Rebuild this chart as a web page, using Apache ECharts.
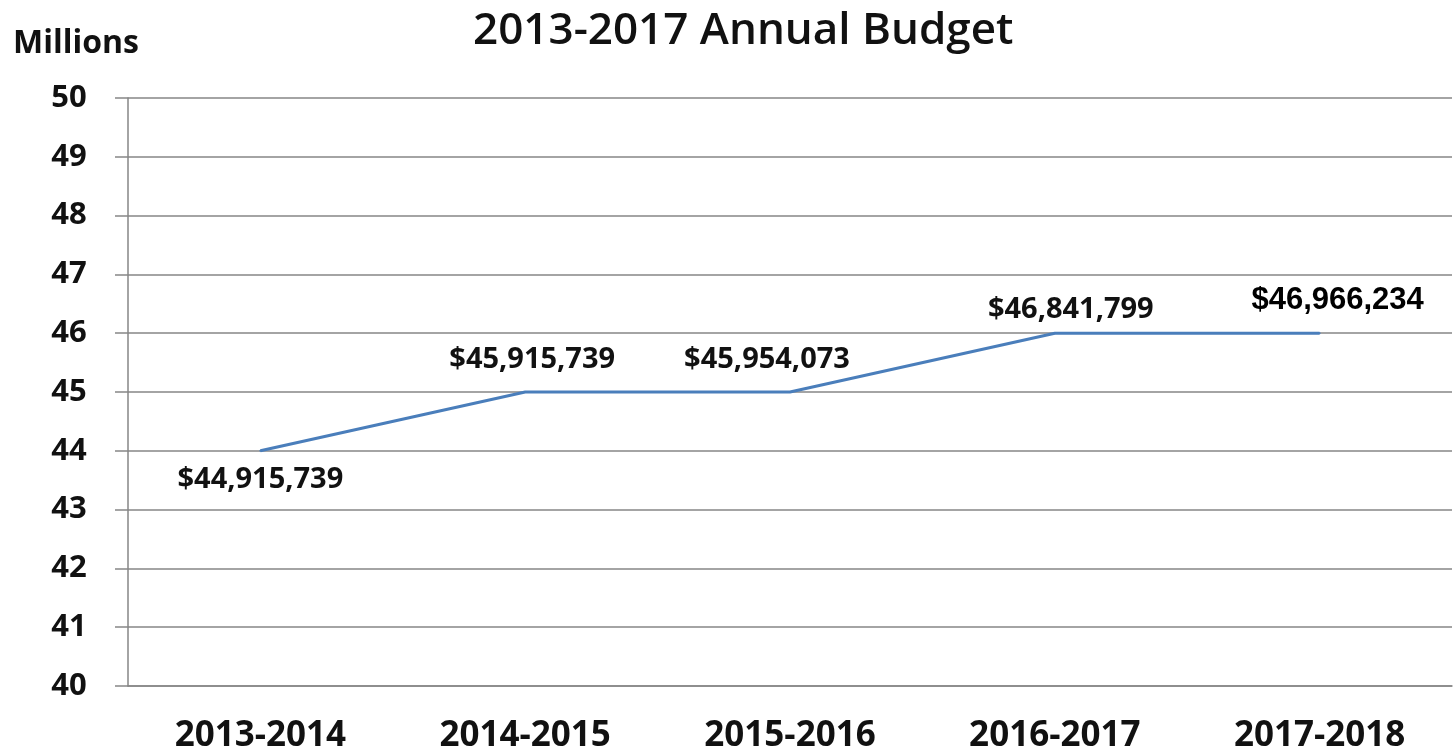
<!DOCTYPE html>
<html>
<head>
<meta charset="utf-8">
<script src="https://cdn.jsdelivr.net/npm/echarts@6/dist/echarts.min.js"></script>
<style>html,body{margin:0;padding:0;background:#fff}#c{width:1453px;height:754px}</style>
</head>
<body>
<div id="c"></div>
<script>
const categories = ['2013-2014', '2014-2015', '2015-2016', '2016-2017', '2017-2018'];
const budgetMillions = [44, 45, 45, 46, 46];
const budgetLabels = ['$44,915,739', '$45,915,739', '$45,954,073', '$46,841,799', '$46,966,234'];
const yTicks = [40, 41, 42, 43, 44, 45, 46, 47, 48, 49, 50];

// label placement (style, not data)
const labelStyles = [
  { offset: [0, 29], style: 'cal' },
  { offset: [7, -32], style: 'cal' },
  { offset: [-23, -32], style: 'cal' },
  { offset: [16, -23], style: 'cal' },
  { offset: [22, -33], style: 'box' }
];

const chart = echarts.init(document.getElementById('c'));
const font = '"Open Sans", "DejaVu Sans", sans-serif';
chart.setOption({
  animation: false,
  backgroundColor: '#fff',
  title: [{
    text: '2013-2017 Annual Budget',
    left: 468, top: 4,
    textStyle: { fontFamily: font, fontSize: 44, fontWeight: 600, color: '#111' }
  }, {
    text: 'Millions',
    left: 8, top: 23,
    textStyle: { fontFamily: font, fontSize: 32, fontWeight: 'bold', color: '#111' }
  }],
  grid: { left: 128, right: 1, top: 98, bottom: 66 },
  xAxis: {
    type: 'category',
    data: categories,
    boundaryGap: true,
    axisLine: { lineStyle: { color: '#868686', width: 1.5 } },
    axisTick: { length: 12, lineStyle: { color: '#868686', width: 1.5 } },
    axisLabel: { fontFamily: font, fontSize: 35, fontWeight: 'bold', color: '#111', margin: 33, lineHeight: 35 }
  },
  yAxis: {
    type: 'value',
    min: yTicks[0], max: yTicks[yTicks.length - 1], interval: 1,
    axisLine: { show: true, lineStyle: { color: '#868686', width: 1.5 } },
    axisTick: { show: true, length: 13, lineStyle: { color: '#868686', width: 1.5 } },
    axisLabel: { fontFamily: font, fontSize: 31, fontWeight: 'bold', color: '#111', margin: 59, align: 'center' },
    splitLine: { lineStyle: { color: '#868686', width: 1.5 } }
  },
  series: [{
    type: 'line',
    data: budgetMillions.map((v, i) => ({
      value: v,
      label: { offset: labelStyles[i].offset }
    })),
    label: {
      show: true,
      position: 'inside',
      align: 'center',
      verticalAlign: 'middle',
      formatter: p => '{' + labelStyles[p.dataIndex].style + '|' + budgetLabels[p.dataIndex] + '}',
      rich: {
        cal: { fontFamily: font, fontSize: 29, lineHeight: 29, fontWeight: 'bold', color: '#111' },
        box: {
          fontFamily: '"Liberation Sans", Arial, sans-serif', fontSize: 31, lineHeight: 31,
          fontWeight: 'bold', color: '#000', backgroundColor: '#fff', padding: [9, 27, 8, 19]
        }
      }
    },
    symbol: 'circle',
    symbolSize: 2,
    showSymbol: true,
    itemStyle: { color: '#4a7ebb' },
    lineStyle: { color: '#4a7ebb', width: 3 },
    z: 3
  }]
});
</script>
</body>
</html>
